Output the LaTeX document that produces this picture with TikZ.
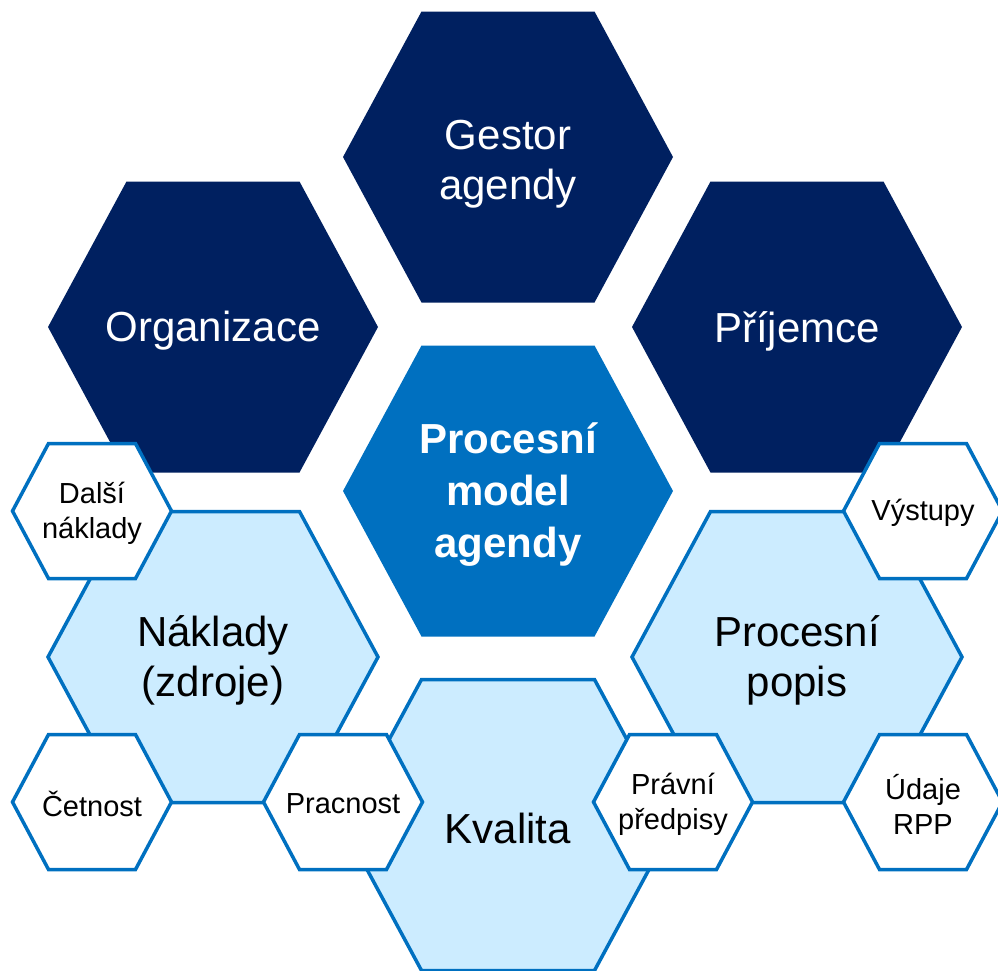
\documentclass[tikz,border=0pt]{standalone}
\usepackage{fontspec}
\setmainfont{Liberation Sans}
\definecolor{Navy}{RGB}{0,32,96}
\definecolor{MidBlue}{RGB}{0,112,192}
\definecolor{LightBlue}{RGB}{204,236,255}
\newcommand{\bighex}{(-165,0) -- (-86.5,-145.5) -- (86.5,-145.5) -- (165,0) -- (86.5,145.5) -- (-86.5,145.5) -- cycle}
\newcommand{\smallhex}{(-79.5,0) -- (-43.5,-67.5) -- (43.5,-67.5) -- (79.5,0) -- (43.5,67.5) -- (-43.5,67.5) -- cycle}
\tikzstyle{darkhex} = [fill=Navy]
\tikzstyle{corehex} = [fill=MidBlue]
\tikzstyle{lighthex} = [fill=LightBlue, draw=MidBlue, line width=3.5pt]
\tikzstyle{leafhex} = [fill=white, draw=MidBlue, line width=3.5pt]
\tikzstyle{bigtext} = [align=center, font=\fontsize{42}{50}\selectfont]
\tikzstyle{smalltext} = [align=center, font=\fontsize{29}{35}\selectfont]

\begin{document}
\begin{tikzpicture}[x=1pt, y=-1pt]
\useasboundingbox (0,0) rectangle (998,970);
% outer ring
\fill[darkhex, shift={(508,157)}] \bighex;
\fill[darkhex, shift={(213,327)}] \bighex;
\fill[darkhex, shift={(797,327)}] \bighex;
\fill[corehex, shift={(508,491)}] \bighex;
\node[bigtext, text=white] (gestor) at (508,164) {Gestor\\agendy};
\node[bigtext, text=white] (organizace) at (213,331) {Organizace};
\node[bigtext, text=white] (prijemce) at (797,331) {Příjemce};
\node[bigtext, text=white, font=\fontsize{42}{52}\selectfont\bfseries] (model) at (508,495) {Procesní\\model\\agendy};
% lower ring
\path[lighthex, shift={(213,657)}] \bighex;
\path[lighthex, shift={(797,657)}] \bighex;
\path[lighthex, shift={(508,825)}] \bighex;
\node[bigtext] (naklady) at (213,660) {Náklady\\(zdroje)};
\node[bigtext] (popis) at (797,660) {Procesní\\popis};
\node[bigtext] (kvalita) at (508,828) {Kvalita};
% small ones
\path[leafhex, shift={(92,511)}] \smallhex;
\path[leafhex, shift={(92,802)}] \smallhex;
\path[leafhex, shift={(343,802)}] \smallhex;
\path[leafhex, shift={(673,802)}] \smallhex;
\path[leafhex, shift={(923,511)}] \smallhex;
\path[leafhex, shift={(923,802)}] \smallhex;
\node[smalltext] (dalsi) at (92,513) {Další\\náklady};
\node[smalltext] (cetnost) at (92,804) {Četnost};
\node[smalltext] (pracnost) at (343,804) {Pracnost};
\node[smalltext] (pravni) at (673,804) {Právní\\předpisy};
\node[smalltext] (vystupy) at (923,513) {Výstupy};
\node[smalltext] (udaje) at (923,804) {Údaje\\RPP};
\end{tikzpicture}
\end{document}
